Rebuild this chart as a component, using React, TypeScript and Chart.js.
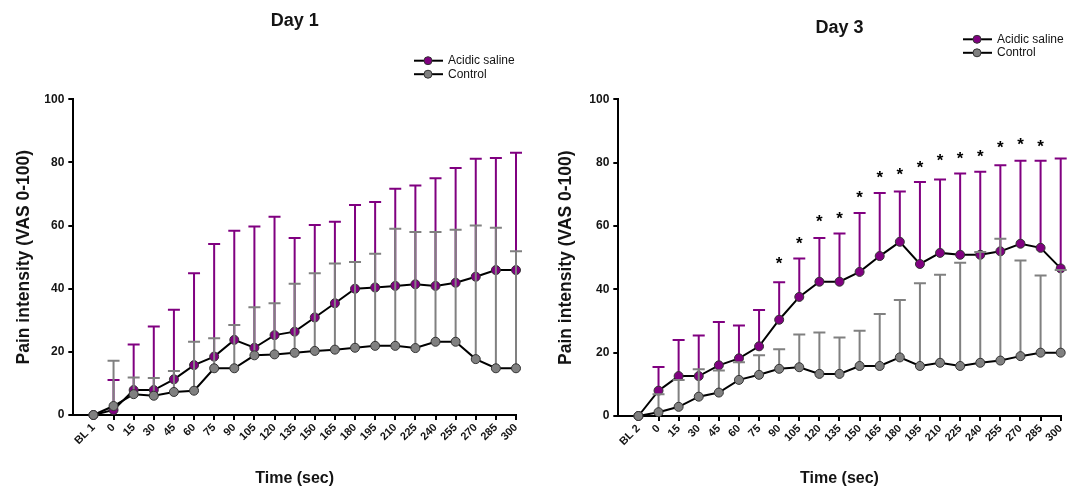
import React, { useEffect, useRef } from 'react';
import { Chart, registerables } from 'chart.js';

Chart.register(...registerables);

const FONT = '"Liberation Sans", Arial, Helvetica, sans-serif';
const PURPLE = '#800080';
const GREY = '#808080';
const TEXT = '#141414';

// ---- categories / tick labels ----
const timeLabels = ['0', '15', '30', '45', '60', '75', '90', '105', '120', '135', '150', '165', '180', '195', '210', '225', '240', '255', '270', '285', '300'];
const day1Labels = ['BL 1', ...timeLabels];
const day3Labels = ['BL 2', ...timeLabels];
const yTicks = [0, 20, 40, 60, 80, 100];

// ---- Day 1 ----
const day1Acidic = [0, 1.6, 7.9, 7.9, 11.3, 15.8, 18.5, 23.8, 21.3, 25.3, 26.4, 30.9, 35.4, 40.0, 40.4, 40.9, 41.4, 40.9, 41.9, 43.8, 45.9, 45.9];
const day1AcidicUpper = [null, 11.1, 22.3, 28.0, 33.3, 44.9, 54.2, 58.4, 59.7, 62.8, 56.1, 60.2, 61.2, 66.5, 67.5, 71.7, 72.7, 75.0, 78.2, 81.2, 81.4, 83.1];
const day1Control = [0, 2.85, 6.6, 6.1, 7.3, 7.7, 14.8, 14.8, 18.9, 19.2, 19.7, 20.3, 20.7, 21.3, 21.9, 21.9, 21.2, 23.2, 23.2, 17.7, 14.8, 14.8];
const day1ControlUpper = [null, 17.2, 11.9, 11.7, 13.9, 23.2, 24.3, 28.5, 34.1, 35.4, 41.6, 44.9, 48.0, 48.5, 51.1, 59.0, 58.0, 58.0, 58.7, 60.0, 59.3, 51.9];
const day1Stars: (number | null)[] = [];

// ---- Day 3 ----
const day3Acidic = [0, 8.0, 12.6, 12.6, 16.0, 18.2, 22.0, 30.4, 37.6, 42.4, 42.4, 45.5, 50.5, 55.0, 48.0, 51.5, 50.9, 50.9, 52.0, 54.4, 53.1, 46.6];
const day3AcidicUpper = [null, 15.5, 24.0, 25.4, 29.7, 28.6, 33.5, 42.2, 49.7, 56.2, 57.6, 64.1, 70.4, 70.9, 73.9, 74.7, 76.6, 77.1, 79.2, 80.6, 80.6, 81.3];
const day3Control = [0, 1.2, 2.9, 6.1, 7.4, 11.4, 13.0, 14.9, 15.4, 13.3, 13.3, 15.8, 15.8, 18.5, 15.8, 16.8, 15.8, 16.8, 17.5, 18.9, 20.0, 20.0];
const day3ControlUpper = [null, 6.9, 11.4, 14.8, 14.4, 17.0, 19.2, 21.1, 25.7, 26.4, 24.8, 26.9, 32.2, 36.6, 41.9, 44.6, 48.4, 51.8, 56.0, 49.1, 44.4, 46.1];
const day3Stars = [null, null, null, null, null, null, null, 49.3, 55.8, 62.7, 63.5, 70.1, 76.6, 77.5, 79.8, 81.9, 82.7, 83.3, 85.9, 86.9, 86.5, null];

type Panel = {
  title: string;
  labels: string[];
  acidic: number[];
  acidicUpper: (number | null)[];
  control: number[];
  controlUpper: (number | null)[];
  stars: (number | null)[];
  width: number;
  yWidth: number;
  padRight: number;
  top: number;
  xHeight: number;
  titleY: number;
  legendX: number;
  legendY: number;
  yTitleX: number;
};

const panels: Panel[] = [
  {
    title: 'Day 1', labels: day1Labels, acidic: day1Acidic, acidicUpper: day1AcidicUpper,
    control: day1Control, controlUpper: day1ControlUpper, stars: day1Stars,
    width: 540, yWidth: 73.3, padRight: 24, top: 99.3, xHeight: 72,
    titleY: 21, legendX: 414, legendY: 60.7, yTitleX: 24,
  },
  {
    title: 'Day 3', labels: day3Labels, acidic: day3Acidic, acidicUpper: day3AcidicUpper,
    control: day3Control, controlUpper: day3ControlUpper, stars: day3Stars,
    width: 537, yWidth: 78.3, padRight: 16.3, top: 99.3, xHeight: 71,
    titleY: 28, legendX: 423, legendY: 39.3, yTitleX: 26,
  },
];

const HEIGHT = 487;

function makeConfig(p: Panel): any {
  const pts = (arr: number[]) => arr.map((y, i) => ({ x: i, y }));
  const errorBars = {
    id: 'errorBars',
    beforeDatasetDraw(chart: any, args: any) {
      const ds = chart.data.datasets[args.index];
      const xs = chart.scales.x;
      const ys = chart.scales.y;
      const ctx = chart.ctx;
      ctx.save();
      ctx.strokeStyle = ds.barColor;
      ctx.lineWidth = 2;
      ds.data.forEach((pt: any, i: number) => {
        const up = ds.upper[i];
        if (up == null) return;
        const x = xs.getPixelForValue(pt.x);
        const y0 = ys.getPixelForValue(pt.y);
        const y1 = ys.getPixelForValue(up);
        ctx.beginPath();
        ctx.moveTo(x, y0);
        ctx.lineTo(x, y1);
        ctx.moveTo(x - 6, y1);
        ctx.lineTo(x + 6, y1);
        ctx.stroke();
      });
      ctx.restore();
    },
  };
  const decor = {
    id: 'decor',
    afterDraw(chart: any) {
      const ctx = chart.ctx;
      const area = chart.chartArea;
      const cx = (area.left + area.right) / 2;
      const cy = (area.top + area.bottom) / 2;
      ctx.save();
      ctx.fillStyle = TEXT;
      // title
      ctx.font = `bold 18px ${FONT}`;
      ctx.textAlign = 'center';
      ctx.textBaseline = 'middle';
      ctx.fillText(p.title, cx, p.titleY);
      // x title
      ctx.font = `bold 16px ${FONT}`;
      ctx.fillText('Time (sec)', cx, 479);
      // y title
      ctx.save();
      ctx.translate(p.yTitleX, cy);
      ctx.rotate(-Math.PI / 2);
      ctx.font = `bold 17.5px ${FONT}`;
      ctx.fillText('Pain intensity (VAS 0-100)', 0, 0);
      ctx.restore();
      // legend
      const entries = [
        { label: 'Acidic saline', color: PURPLE },
        { label: 'Control', color: GREY },
      ];
      entries.forEach((e, k) => {
        const y = p.legendY + k * 13.5;
        ctx.strokeStyle = '#000';
        ctx.lineWidth = 2;
        ctx.beginPath();
        ctx.moveTo(p.legendX, y);
        ctx.lineTo(p.legendX + 29, y);
        ctx.stroke();
        ctx.beginPath();
        ctx.arc(p.legendX + 14, y, 4, 0, Math.PI * 2);
        ctx.fillStyle = e.color;
        ctx.fill();
        ctx.lineWidth = 1;
        ctx.strokeStyle = '#333';
        ctx.stroke();
        ctx.fillStyle = TEXT;
        ctx.font = `12px ${FONT}`;
        ctx.textAlign = 'left';
        ctx.textBaseline = 'middle';
        ctx.fillText(e.label, p.legendX + 34, y);
      });
      // significance stars
      const xs = chart.scales.x;
      const ys = chart.scales.y;
      ctx.font = `bold 17px ${FONT}`;
      ctx.textAlign = 'center';
      ctx.textBaseline = 'alphabetic';
      ctx.fillStyle = '#000';
      p.stars.forEach((s, i) => {
        if (s == null) return;
        ctx.fillText('*', xs.getPixelForValue(i), ys.getPixelForValue(s) + 9.5);
      });
      ctx.restore();
    },
  };
  const tickFont = { family: FONT, size: 11, weight: 'bold' as const };
  return {
    type: 'line',
    data: {
      datasets: [
        {
          label: 'Control', data: pts(p.control), upper: p.controlUpper, barColor: GREY,
          borderColor: '#000', borderWidth: 2, pointRadius: 4.5, pointBackgroundColor: GREY,
          pointBorderColor: '#333', pointBorderWidth: 1, tension: 0, clip: false,
        },
        {
          label: 'Acidic saline', data: pts(p.acidic), upper: p.acidicUpper, barColor: PURPLE,
          borderColor: '#000', borderWidth: 2, pointRadius: 4.5, pointBackgroundColor: PURPLE,
          pointBorderColor: '#333', pointBorderWidth: 1, tension: 0, clip: false,
        },
      ],
    },
    options: {
      responsive: false,
      animation: false,
      layout: { padding: { left: 0, top: p.top, right: p.padRight, bottom: 0 } },
      plugins: { legend: { display: false }, title: { display: false }, tooltip: { enabled: false } },
      scales: {
        x: {
          type: 'linear', min: -1, max: 21,
          afterBuildTicks: (s: any) => { s.ticks = s.ticks.filter((t: any) => t.value >= 0 && Number.isInteger(t.value)); },
          afterFit: (s: any) => { s.height = p.xHeight; },
          ticks: {
            stepSize: 1, autoSkip: false, minRotation: 45, maxRotation: 45, padding: 1,
            callback: (v: any) => p.labels[v] ?? '', font: tickFont, color: TEXT,
          },
          grid: { drawOnChartArea: false, tickLength: 5, color: '#000', lineWidth: 2 },
          border: { color: '#000', width: 2 },
        },
        y: {
          min: 0, max: 100,
          afterBuildTicks: (s: any) => { s.ticks = yTicks.map((v) => ({ value: v })); },
          afterFit: (s: any) => { s.width = p.yWidth; },
          ticks: { stepSize: 20, padding: 4, font: { ...tickFont, size: 12 }, color: TEXT },
          grid: { drawOnChartArea: false, tickLength: 5, color: '#000', lineWidth: 2 },
          border: { color: '#000', width: 2 },
        },
      },
    },
    plugins: [errorBars, decor],
  };
}

function PanelChart({ p, left }: { p: Panel; left: number }) {
  const ref = useRef<HTMLCanvasElement | null>(null);
  useEffect(() => {
    if (!ref.current) return;
    const chart = new Chart(ref.current, makeConfig(p));
    return () => chart.destroy();
  }, [p]);
  return (
    <canvas
      ref={ref}
      width={p.width}
      height={HEIGHT}
      style={{ position: 'absolute', left, top: 0, width: p.width, height: HEIGHT }}
    />
  );
}

export default function App() {
  return (
    <div style={{ position: 'absolute', left: 0, top: 0, width: 1077, height: HEIGHT, background: '#fff' }}>
      <PanelChart p={panels[0]} left={0} />
      <PanelChart p={panels[1]} left={540} />
    </div>
  );
}
